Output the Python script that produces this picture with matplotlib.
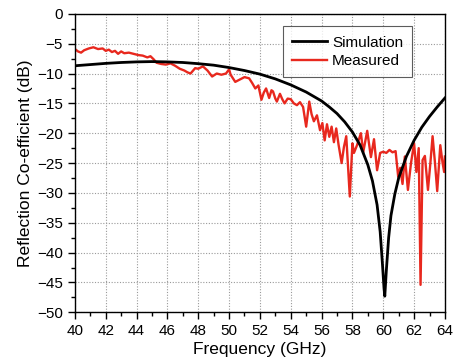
import matplotlib.pyplot as plt
from matplotlib.ticker import MultipleLocator

plt.rcParams['font.family'] = ['Liberation Sans', 'DejaVu Sans']

# simulated S11 (GHz, dB)
sim_f = [40, 41, 42, 43, 44, 45, 46, 47, 48, 49, 50, 51, 52, 53, 54, 55, 56,
         56.5, 57, 57.5, 58, 58.5, 59, 59.3, 59.6, 59.8, 59.95, 60.05, 60.1,
         60.2, 60.35, 60.5, 60.75, 61, 61.5, 62, 62.5, 63, 63.5, 64]
sim_db = [-8.7, -8.5, -8.3, -8.15, -8.05, -8.0, -8.05, -8.15, -8.35, -8.6,
          -9.0, -9.5, -10.1, -10.9, -11.9, -13.1, -14.6, -15.6, -16.7, -18.1,
          -19.8, -22.0, -25.3, -28.0, -32.0, -36.5, -42.0, -46.0, -47.3,
          -43.0, -37.5, -33.8, -30.2, -27.5, -23.9, -21.2, -19.0, -17.2,
          -15.6, -14.1]

# measured S11 (GHz, dB)
meas_f = [40.0, 40.2, 40.4, 40.6, 40.9, 41.2, 41.5, 41.8, 42.0, 42.2, 42.4,
          42.6, 42.8, 43.0, 43.2, 43.5, 43.8, 44.1, 44.4, 44.7, 44.9, 45.1,
          45.3, 45.6, 45.9, 46.2, 46.5, 46.8, 47.1, 47.3, 47.5, 47.8, 48.0,
          48.3, 48.6, 48.9, 49.2, 49.5, 49.8, 50.0, 50.1, 50.4, 50.7, 51.0,
          51.3, 51.5, 51.7, 51.9, 52.1, 52.25, 52.4, 52.6, 52.75, 52.85,
          53.0, 53.1, 53.3, 53.45, 53.6, 53.8, 54.0, 54.2, 54.4, 54.6, 54.8,
          55.0, 55.2, 55.35, 55.5, 55.7, 55.9, 56.05, 56.2, 56.35, 56.5,
          56.65, 56.8, 56.95, 57.1, 57.3, 57.45, 57.6, 57.83, 58.0, 58.1,
          58.3, 58.55, 58.7, 58.96, 59.2, 59.4, 59.6, 59.8, 60.0, 60.2, 60.4,
          60.6, 60.8, 60.97, 61.1, 61.25, 61.4, 61.6, 61.8, 62.0, 62.15,
          62.3, 62.42, 62.55, 62.7, 62.9, 63.05, 63.2, 63.35, 63.5, 63.7,
          63.85, 63.95, 64.0]
meas_db = [-5.9, -6.3, -6.5, -6.1, -5.8, -5.6, -5.9, -5.8, -6.2, -6.0, -6.4,
           -6.2, -6.7, -6.3, -6.6, -6.5, -6.7, -6.9, -7.0, -7.3, -7.1, -7.6,
           -8.2, -8.4, -8.5, -8.3, -8.7, -9.2, -9.5, -9.8, -10.0, -9.1, -9.2,
           -8.8, -9.5, -10.5, -10.0, -10.2, -10.0, -9.3, -10.2, -11.4, -11.0,
           -10.6, -10.8, -11.6, -12.5, -12.0, -14.4, -13.2, -12.5, -14.1,
           -12.8, -13.0, -14.2, -14.7, -13.4, -14.3, -15.0, -14.2, -14.3,
           -15.0, -15.3, -14.8, -15.6, -18.9, -14.7, -16.8, -18.0, -17.0,
           -19.5, -18.3, -21.2, -18.5, -20.6, -18.9, -21.5, -19.2, -21.9,
           -25.0, -22.3, -20.5, -30.6, -21.7, -23.3, -22.0, -20.0, -23.2,
           -19.6, -24.0, -21.0, -26.2, -23.3, -23.1, -23.3, -22.8, -23.2,
           -23.0, -27.3, -25.8, -28.5, -23.9, -29.5, -25.0, -21.7, -26.5,
           -22.5, -45.4, -24.5, -23.8, -29.5, -25.2, -20.5, -24.8, -29.7,
           -22.0, -25.0, -26.5, -23.9]

fig = plt.figure(figsize=(4.54, 3.64), dpi=100)
ax = fig.add_axes([0.165, 0.142, 0.815, 0.82])

ax.plot(sim_f, sim_db, color='black', lw=2.0, label='Simulation', zorder=3)
ax.plot(meas_f, meas_db, color='#e8281e', lw=1.7, label='Measured', zorder=2)

ax.set_xlim(40, 64)
ax.set_ylim(-50, 0)
ax.xaxis.set_major_locator(MultipleLocator(2))
ax.xaxis.set_minor_locator(MultipleLocator(1))
ax.yaxis.set_major_locator(MultipleLocator(5))
ax.yaxis.set_minor_locator(MultipleLocator(2.5))
ax.tick_params(which='major', direction='out', length=5, width=1,
               labelsize=11, top=False, right=False)
ax.tick_params(which='minor', direction='out', length=3, width=1,
               top=False, right=False)
ax.grid(True, which='major', color='#9a9a9a', linestyle=(0, (1, 1.5)),
        linewidth=0.8)
for s in ax.spines.values():
    s.set_linewidth(1.0)

ax.set_xlabel('Frequency (GHz)', fontsize=12.5, labelpad=3)
ax.set_ylabel('Reflection Co-efficient (dB)', fontsize=12.5, labelpad=3)

leg = ax.legend(loc='upper right', bbox_to_anchor=(0.92, 0.968),
                fontsize=11, frameon=True, fancybox=False, handlelength=2.3,
                borderpad=0.6, labelspacing=0.3, handletextpad=0.3,
                borderaxespad=0.2)
leg.get_frame().set_edgecolor('#333333')
leg.get_frame().set_linewidth(0.8)

plt.savefig('out.png', dpi=100)
